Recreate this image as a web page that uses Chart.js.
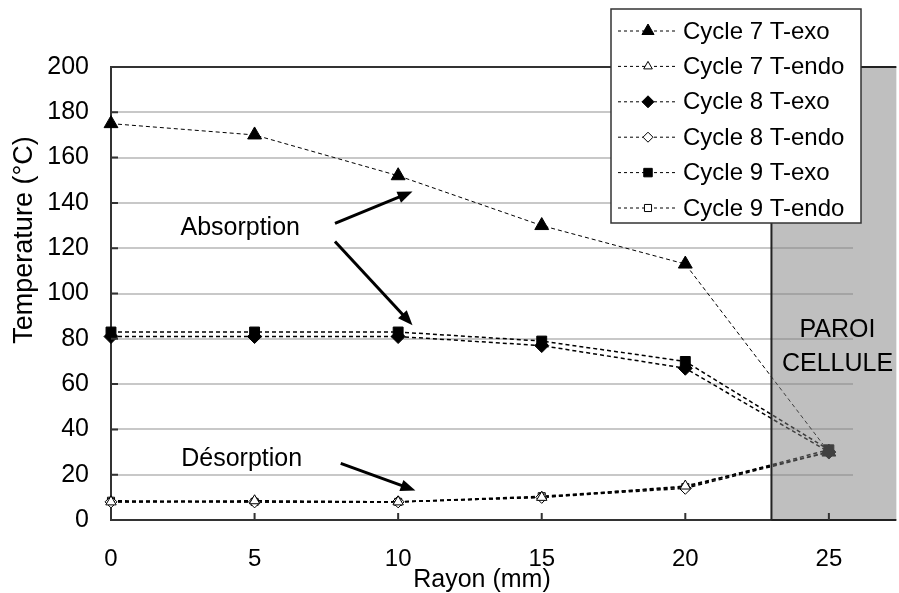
<!DOCTYPE html>
<html>
<head>
<meta charset="utf-8">
<script src="https://cdn.jsdelivr.net/npm/chart.js@4.4.0/dist/chart.umd.min.js"></script>
<style>
  body { margin: 0; background: #fff; }
  canvas { display: block; }
</style>
</head>
<body>
<canvas id="tempChart" width="899" height="593"></canvas>
<script>
// values
const rayon = [0, 5, 10, 15, 20, 25];
const cycle7Exo = [175, 170, 152, 130, 113, 30];
const cycle7Endo = [8, 8.5, 8, 10, 15, 30];
const cycle8Exo = [81, 81, 81, 77, 67, 30];
const cycle8Endo = [8, 8, 8, 10, 14, 30];
const cycle9Exo = [83, 83, 83, 79, 70, 31];
const cycle9Endo = [8.5, 8, 8, 10.5, 14.5, 31];
const seriesNames = ['Cycle 7 T-exo', 'Cycle 7 T-endo', 'Cycle 8 T-exo', 'Cycle 8 T-endo', 'Cycle 9 T-exo', 'Cycle 9 T-endo'];
const yTicks = [0, 20, 40, 60, 80, 100, 120, 140, 160, 180, 200];
const xTicks = [0, 5, 10, 15, 20, 25];
const wallStart = 23;   // start of the "PAROI CELLULE" zone
const wallEnd = 27.35;

const FONT = 'Arial, "Liberation Sans", sans-serif';

function series(label, values, style, filled, radius, width) {
    return {
        label: label,
        data: rayon.map((r, i) => ({ x: r, y: values[i] })),
        borderColor: '#000',
        borderWidth: width,
        borderDash: [4, 3],
        pointStyle: style,
        pointRadius: radius,
        pointBackgroundColor: filled ? '#000' : '#fff',
        pointBorderColor: '#000',
        pointBorderWidth: 1,
        fill: false,
        tension: 0,
        clip: false
    };
}

const datasets = [
    series(seriesNames[0], cycle7Exo, 'triangle', true, 8, 1),
    series(seriesNames[1], cycle7Endo, 'triangle', false, 6, 1.5),
    series(seriesNames[2], cycle8Exo, 'rectRot', true, 7, 1.5),
    series(seriesNames[3], cycle8Endo, 'rectRot', false, 6, 1.5),
    series(seriesNames[4], cycle9Exo, 'rect', true, 7, 1.5),
    series(seriesNames[5], cycle9Endo, 'rect', false, 5, 1.5)
];

function arrow(ctx, x1, y1, x2, y2) {
    const a = Math.atan2(y2 - y1, x2 - x1);
    const head = 16, spread = 0.38;
    ctx.beginPath();
    ctx.moveTo(x1, y1);
    ctx.lineTo(x2 - Math.cos(a) * head * 0.8, y2 - Math.sin(a) * head * 0.8);
    ctx.stroke();
    ctx.beginPath();
    ctx.moveTo(x2, y2);
    ctx.lineTo(x2 - head * Math.cos(a - spread), y2 - head * Math.sin(a - spread));
    ctx.lineTo(x2 - head * Math.cos(a + spread), y2 - head * Math.sin(a + spread));
    ctx.closePath();
    ctx.fill();
}

// grey wall zone, annotations, inner tick marks, legend and y title
const decorations = {
    id: 'decorations',
    afterDatasetsDraw(chart) {
        const { ctx, scales: { x, y } } = chart;
        const l = x.getPixelForValue(wallStart), r = x.getPixelForValue(wallEnd);
        const t = y.getPixelForValue(200), b = y.getPixelForValue(0);
        ctx.save();
        ctx.fillStyle = 'rgba(128,128,128,0.5)';
        ctx.fillRect(l, t, r - l, b - t);
        ctx.strokeStyle = '#222';
        ctx.lineWidth = 2;
        ctx.beginPath();
        ctx.moveTo(l, b); ctx.lineTo(l, t); ctx.lineTo(r, t);
        ctx.moveTo(l, b); ctx.lineTo(r, b);
        ctx.stroke();

        // tick marks pointing into the plot
        ctx.strokeStyle = '#333';
        ctx.beginPath();
        xTicks.forEach(v => {
            const px = x.getPixelForValue(v);
            ctx.moveTo(px, b); ctx.lineTo(px, b - 7);
        });
        yTicks.forEach(v => {
            const py = y.getPixelForValue(v);
            ctx.moveTo(x.left, py); ctx.lineTo(x.left + 7, py);
        });
        ctx.stroke();

        ctx.fillStyle = '#000';
        ctx.font = '25px ' + FONT;
        ctx.textAlign = 'center';
        ctx.textBaseline = 'middle';
        ctx.fillText('PAROI', x.getPixelForValue(25.3), y.getPixelForValue(84));
        ctx.fillText('CELLULE', x.getPixelForValue(25.3), y.getPixelForValue(69));
        ctx.fillText('Absorption', x.getPixelForValue(4.5), y.getPixelForValue(129));
        ctx.fillText('Désorption', x.getPixelForValue(4.55), y.getPixelForValue(27));

        ctx.strokeStyle = '#000';
        ctx.lineWidth = 3;
        arrow(ctx, x.getPixelForValue(7.8), y.getPixelForValue(131), x.getPixelForValue(10.5), y.getPixelForValue(145));
        arrow(ctx, x.getPixelForValue(7.8), y.getPixelForValue(123), x.getPixelForValue(10.5), y.getPixelForValue(86));
        arrow(ctx, x.getPixelForValue(8.0), y.getPixelForValue(25), x.getPixelForValue(10.6), y.getPixelForValue(13));

        // y axis title
        ctx.save();
        ctx.translate(25, 240);
        ctx.rotate(-Math.PI / 2);
        ctx.font = '27px ' + FONT;
        ctx.fillText('Temperature (°C)', 0, 0);
        ctx.restore();
        ctx.restore();
    },
    afterDraw(chart) {
        const ctx = chart.ctx;
        const bx = 611, by = 9, bw = 250, bh = 214;
        ctx.save();
        ctx.fillStyle = '#fff';
        ctx.fillRect(bx, by, bw, bh);
        ctx.strokeStyle = '#333';
        ctx.lineWidth = 1.5;
        ctx.strokeRect(bx, by, bw, bh);
        chart.data.datasets.forEach((ds, i) => {
            const ry = 31 + i * 35.4;
            ctx.strokeStyle = '#000';
            ctx.lineWidth = 1;
            ctx.setLineDash([3, 3]);
            ctx.beginPath();
            ctx.moveTo(618, ry); ctx.lineTo(677, ry);
            ctx.stroke();
            ctx.setLineDash([]);
            ctx.fillStyle = ds.pointBackgroundColor;
            ctx.strokeStyle = '#000';
            Chart.helpers.drawPoint(ctx, {
                pointStyle: ds.pointStyle,
                radius: Math.max(ds.pointRadius - 1, 5),
                rotation: 0,
                borderWidth: 1
            }, 648, ry);
            ctx.fillStyle = '#000';
            ctx.font = '24px ' + FONT;
            ctx.textAlign = 'left';
            ctx.textBaseline = 'middle';
            ctx.fillText(ds.label, 683, ry + 1);
        });
        ctx.restore();
    }
};

new Chart(document.getElementById('tempChart').getContext('2d'), {
    type: 'line',
    data: { datasets: datasets },
    options: {
        responsive: false,
        animation: false,
        layout: { padding: { top: 67, right: 46, left: 0, bottom: 0 } },
        plugins: { legend: { display: false }, tooltip: { enabled: false } },
        scales: {
            x: {
                type: 'linear',
                min: 0,
                max: 25.84,
                afterFit: s => { s.height = 73; },
                afterBuildTicks: s => { s.ticks = xTicks.map(v => ({ value: v })); },
                grid: { display: true, drawOnChartArea: false, drawTicks: false },
                border: { color: '#333', width: 2 },
                ticks: { color: '#000', font: { size: 24, family: FONT }, padding: 25 },
                title: {
                    display: true,
                    text: 'Rayon (mm)',
                    color: '#000',
                    font: { size: 25, family: FONT, lineHeight: 1 },
                    padding: { top: 0, bottom: 0 }
                }
            },
            y: {
                min: 0,
                max: 200,
                afterFit: s => { s.width = 111; },
                afterBuildTicks: s => { s.ticks = yTicks.map(v => ({ value: v })); },
                grid: {
                    color: c => (c.tick && c.tick.value === 200) ? '#333' : '#c8c8c8',
                    lineWidth: 2,
                    drawTicks: false
                },
                border: { color: '#333', width: 2 },
                ticks: { color: '#000', font: { size: 25, family: FONT }, padding: 22 }
            }
        }
    },
    plugins: [decorations]
});
</script>
</body>
</html>
